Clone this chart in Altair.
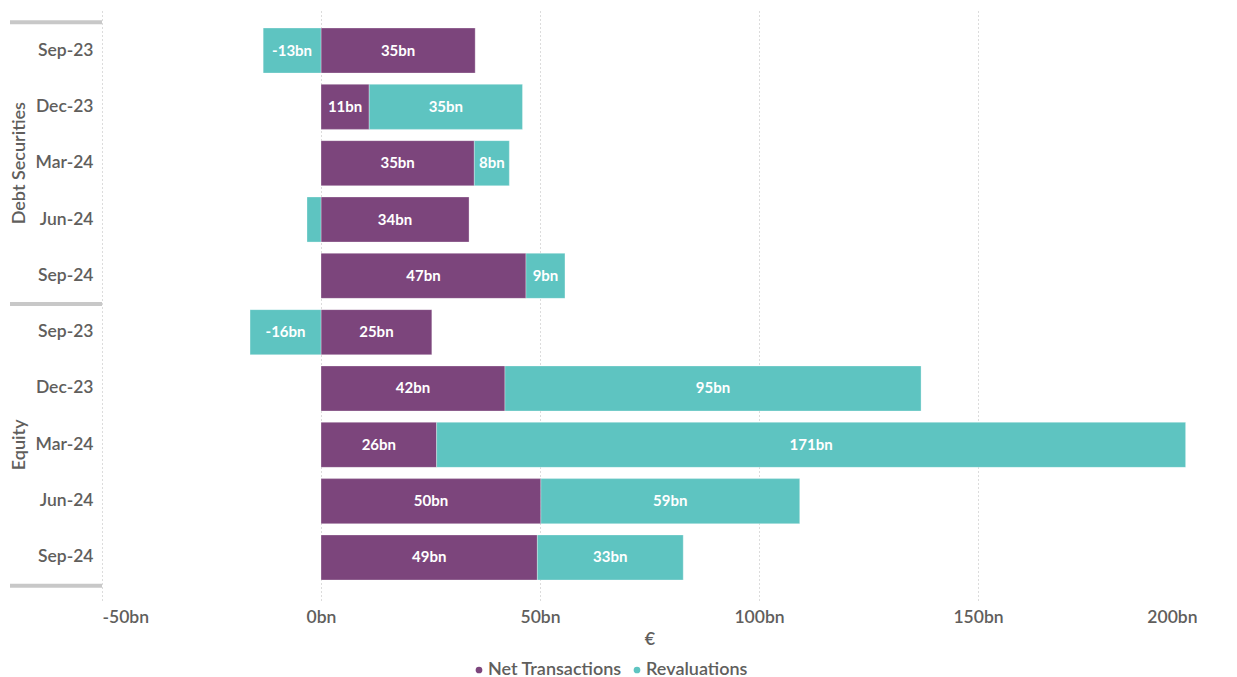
import altair as alt
import pandas as pd

groups = ["Debt Securities"] * 5 + ["Equity"] * 5
periods = ["Sep-23", "Dec-23", "Mar-24", "Jun-24", "Sep-24"] * 2
net_transactions = [35.2, 11.0, 35.0, 33.8, 46.8, 25.3, 42.0, 26.4, 50.2, 49.4]
revaluations = [-13.2, 35.0, 8.0, -3.2, 8.9, -16.2, 95.0, 171.0, 59.1, 33.3]
series_names = ["Net Transactions", "Revaluations"]
series_colors = ["#7C457C", "#5EC4C1"]
x_ticks = [-50, 0, 50, 100, 150, 200]

TXT = "#605E5C"
FONT = "Lato"

keys = [f"{g}|{p}" for g, p in zip(groups, periods)]
rows = []
for k, g, p, n, r in zip(keys, groups, periods, net_transactions, revaluations):
    rows.append({"key": k, "group": g, "period": p, "series": series_names[0], "value": n, "ord": 0})
    rows.append({"key": k, "group": g, "period": p, "series": series_names[1], "value": r, "ord": 1})
df = pd.DataFrame(rows)

group_names = ["Debt Securities", "Equity"]
sep_top = pd.DataFrame({"key": [f"{g}|Sep-23" for g in group_names]})
sep_bot = pd.DataFrame({"key": [f"{group_names[-1]}|Sep-24"]})
grp_lbl = pd.DataFrame({"key": [f"{g}|Mar-24" for g in group_names], "label": group_names})

HEIGHT = 592
P_IN, P_OUT = 0.2, 0.355
STEP = HEIGHT / (len(keys) - P_IN + 2 * P_OUT)
HALF_GAP = STEP * P_IN / 2

y_axis = alt.Axis(
    title=None,
    labelExpr="split(datum.label, '|')[1]",
    domain=False,
    ticks=False,
    grid=False,
    labelPadding=9,
    labelFontSize=17.5,
    labelFont=FONT,
    labelFontWeight=600,
    labelColor=TXT,
)
y_scale = alt.Scale(paddingInner=P_IN, paddingOuter=P_OUT)


def ydef(bp=None):
    kw = {}
    if bp is not None:
        kw["bandPosition"] = bp
    return alt.Y("key:N", sort=keys, scale=y_scale, axis=y_axis, **kw)


x_scale = alt.Scale(domain=[-50, 200], nice=False)
x_axis = alt.Axis(
    values=x_ticks,
    labelExpr="datum.value + 'bn'",
    title="€",
    grid=True,
    gridDash=[1, 3],
    gridColor="#B8B8B8",
    domain=False,
    ticks=False,
    labelPadding=8,
    labelFontSize=17.5,
    labelFont=FONT,
    labelFontWeight=600,
    labelColor=TXT,
    titleFontSize=18,
    titleFont=FONT,
    titleFontWeight=600,
    titleColor=TXT,
    titlePadding=5,
)

bars = alt.Chart(df).mark_bar(stroke="white", strokeWidth=0.5, strokeOpacity=0.6).encode(
    x=alt.X("value:Q", stack="zero", scale=x_scale, axis=x_axis),
    y=ydef(),
    color=alt.Color(
        "series:N",
        scale=alt.Scale(domain=series_names, range=series_colors),
        legend=alt.Legend(
            title=None,
            orient="none",
            legendX=368,
            legendY=653,
            direction="horizontal",
            symbolType="circle",
            symbolSize=45,
            symbolStrokeWidth=0,
            labelFontSize=18,
            labelFont=FONT,
            labelFontWeight=600,
            labelColor=TXT,
            labelOffset=0,
            columnPadding=6,
        ),
    ),
    order=alt.Order("ord:Q"),
)

labels = (
    alt.Chart(df)
    .transform_stack(stack="value", groupby=["key"], as_=["v0", "v1"], sort=[alt.SortField("ord")])
    .transform_calculate(mid="(datum.v0 + datum.v1) / 2", label="round(datum.value) + 'bn'")
    .transform_filter("abs(datum.value) >= 5")
    .mark_text(color="white", font=FONT, fontWeight="bold", fontSize=15)
    .encode(x=alt.X("mid:Q", scale=x_scale, axis=x_axis), y=ydef(), text="label:N")
)

rule_top = alt.Chart(sep_top).mark_rule(color="#C8C8C8", strokeWidth=4, yOffset=-HALF_GAP).encode(
    y=ydef(0), x=alt.value(-92), x2=alt.value(0)
)
rule_bot = alt.Chart(sep_bot).mark_rule(color="#C8C8C8", strokeWidth=4, yOffset=HALF_GAP).encode(
    y=ydef(1), x=alt.value(-92), x2=alt.value(0)
)
grp_text = alt.Chart(grp_lbl).mark_text(
    angle=270, align="center", baseline="middle", fontSize=18, font=FONT, fontWeight=600, color=TXT
).encode(y=ydef(), x=alt.value(-82), text="label:N")

chart = (
    alt.layer(bars, labels, rule_top, rule_bot, grp_text)
    .properties(width=1095, height=HEIGHT, padding=0)
    .configure_view(stroke=None)
)

chart.save("out.html", embed_options={"renderer": "svg", "actions": False})
